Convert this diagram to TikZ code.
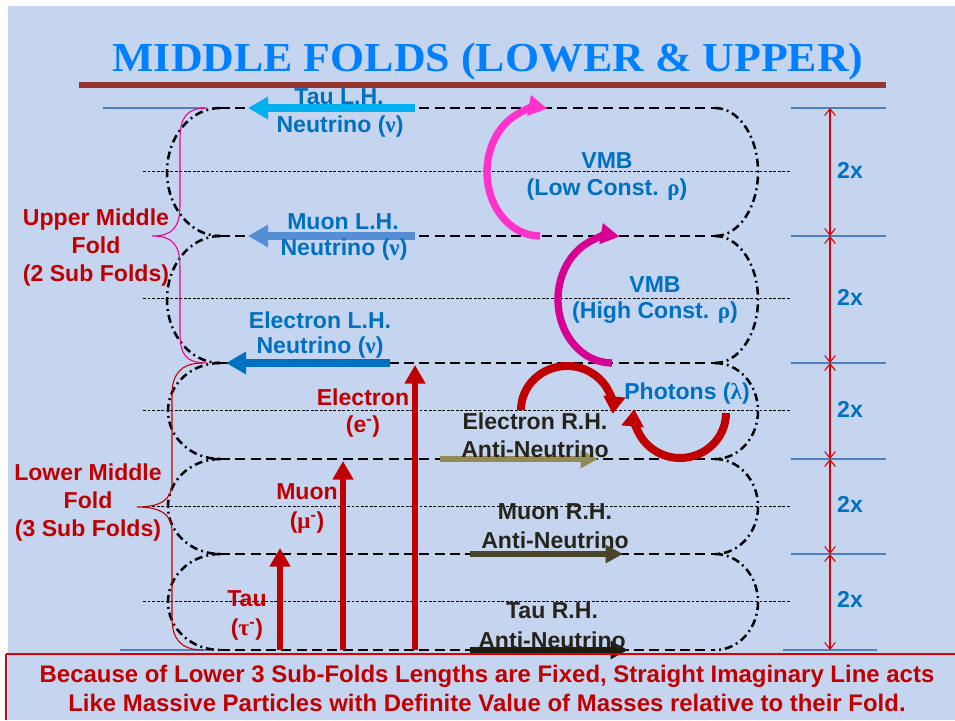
\documentclass[tikz,border=0pt]{standalone}
\usepackage{fontspec}
\usepackage{graphicx}
\setmainfont{Liberation Sans}
\newfontfamily\titlefont{Liberation Serif}
\newfontfamily\grk{Liberation Serif}
\usetikzlibrary{arrows.meta}
\definecolor{bgc}{RGB}{197,213,240}
\definecolor{titleblue}{RGB}{0,128,255}
\definecolor{barbrown}{RGB}{150,52,48}
\definecolor{lblue}{RGB}{0,112,192}
\definecolor{dred}{RGB}{192,0,0}
\definecolor{tauarr}{RGB}{0,176,240}
\definecolor{muarr}{RGB}{85,142,213}
\definecolor{elarr}{RGB}{0,112,192}
\definecolor{pinkA}{RGB}{255,51,204}
\definecolor{pinkB}{RGB}{214,0,147}
\definecolor{oliveA}{RGB}{148,138,84}
\definecolor{oliveB}{RGB}{74,69,42}
\definecolor{oliveC}{RGB}{30,28,16}
\definecolor{tickblue}{RGB}{79,129,189}
\definecolor{dimred}{RGB}{220,0,0}
\definecolor{darktxt}{RGB}{38,36,26}
\begin{document}
\begin{tikzpicture}[x=0.75pt,y=-0.75pt,
  lbl/.style={font=\bfseries\fontsize{17.3}{21}\selectfont, align=center, inner sep=0pt},
  foldline/.style={line width=1.9pt, dash pattern=on 7.5pt off 4pt},
  foldcurve/.style={line width=1.9pt, dash pattern=on 6pt off 3pt on 1.4pt off 3pt},
  midline/.style={line width=0.6pt, dash pattern=on 2.2pt off 1.2pt},
  tickline/.style={tickblue, line width=0.9pt},
  dimarrow/.style={dimred, line width=0.8pt, {Straight Barb[length=5pt,width=8pt]}-{Straight Barb[length=5pt,width=8pt]}},
  lharrow/.style={line width=5.5pt, -{Triangle[length=15pt,width=16pt]}},
  rharrow/.style={line width=4.5pt, -{Triangle[length=13pt,width=13pt]}},
  uparrow/.style={dred, line width=4.5pt, -{Triangle[length=14pt,width=15pt]}},
  vmbarc/.style={line width=5.5pt, -{Triangle[length=14pt,width=15pt]}},
  phoarc/.style={dred, line width=6pt, -{Triangle[length=13pt,width=16pt]}},
  bracemag/.style={magenta, line width=0.8pt},
  bracered/.style={dred, line width=0.8pt}
]
\path[use as bounding box] (0,0) rectangle (955,720);
\fill[white] (0,0) rectangle (955,720);
\fill[bgc] (8,6) rectangle (955,720);

% title
\node[titleblue, inner sep=0pt] (title) at (488,61.5) {\resizebox*{563pt}{28pt}{\titlefont\bfseries MIDDLE FOLDS (LOWER \& UPPER)}};
\fill[barbrown] (79,82) rectangle (886,88);

% mid dotted lines
\foreach \yy in {171,298,410,506,601} \draw[midline] (143,\yy) -- (790,\yy);

% right ticks
\foreach \yy in {108,236,363,459,554} \draw[tickline] (791,\yy) -- (886,\yy);
\draw[tickline] (783,650) -- (877,650);
\draw[tickline] (103,108) -- (205,108);
\draw[tickline] (120,650) -- (210,650);

% fold straight lines
\foreach \yy in {108,236,363,459,554,650} \draw[foldline] (220,\yy) -- (715,\yy);
% left curves
\draw[foldcurve] (220,108) arc[start angle=270,end angle=90,x radius=53,y radius=64];
\draw[foldcurve] (220,236) arc[start angle=270,end angle=90,x radius=53,y radius=63.5];
\draw[foldcurve] (220,363) arc[start angle=270,end angle=90,x radius=52,y radius=48];
\draw[foldcurve] (220,459) arc[start angle=270,end angle=90,x radius=52,y radius=47.5];
\draw[foldcurve] (220,554) arc[start angle=270,end angle=90,x radius=52,y radius=48];
% right curves
\draw[foldcurve] (715,108) arc[start angle=-90,end angle=90,x radius=43,y radius=64];
\draw[foldcurve] (715,236) arc[start angle=-90,end angle=90,x radius=43,y radius=63.5];
\draw[foldcurve] (715,363) arc[start angle=-90,end angle=90,x radius=43,y radius=48];
\draw[foldcurve] (715,459) arc[start angle=-90,end angle=90,x radius=43,y radius=47.5];
\draw[foldcurve] (715,554) arc[start angle=-90,end angle=90,x radius=43,y radius=48];

% braces
\draw[bracemag] (207,108) .. controls (186,108) and (180,118) .. (180,140) -- (180,205)
  .. controls (180,228) and (172,236) .. (152,236)
  .. controls (172,236) and (180,244) .. (180,267) -- (180,332)
  .. controls (180,355) and (186,363) .. (207,363);
\draw[bracered] (203,363) .. controls (180,363) and (172,375) .. (172,395) -- (172,483)
  .. controls (172,500) and (160,507) .. (137,507)
  .. controls (160,507) and (172,514) .. (172,531) -- (172,618)
  .. controls (172,638) and (180,650) .. (203,650);

% left-hand neutrino arrows
\coordinate (tauS) at (415,108); \coordinate (tauE) at (248,108);
\coordinate (muS) at (415,236); \coordinate (muE) at (248,236);
\coordinate (elS) at (390,363); \coordinate (elE) at (226,363);
\draw[lharrow, tauarr] (tauS) -- (tauE);
\draw[lharrow, muarr] (muS) -- (muE);
\draw[lharrow, elarr] (elS) -- (elE);

% right-hand anti-neutrino arrows
\coordinate (erS) at (440,459); \coordinate (erE) at (598,459);
\coordinate (mrS) at (470,554); \coordinate (mrE) at (623,554);
\coordinate (trS) at (470,650); \coordinate (trE) at (628,650);
\draw[rharrow, oliveA] (erS) -- (erE);
\draw[rharrow, oliveB] (mrS) -- (mrE);
\draw[rharrow, oliveC] (trS) -- (trE);

% vertical particle arrows
\coordinate (tauB) at (280,650); \coordinate (tauT) at (280,548);
\coordinate (muB) at (343,650); \coordinate (muT) at (343,461);
\coordinate (eB) at (415,650); \coordinate (eT) at (415,365);
\draw[uparrow] (tauB) -- (tauT);
\draw[uparrow] (muB) -- (muT);
\draw[uparrow] (eB) -- (eT);

% VMB arcs
\coordinate (vlS) at (540,236);
\coordinate (vhS) at (612,363);
\draw[vmbarc, pinkA] (vlS) arc[start angle=90,end angle=278,x radius=53,y radius=64];
\draw[vmbarc, pinkB] (vhS) arc[start angle=90,end angle=278,x radius=54,y radius=63.5];

% photon arcs
\coordinate (p1S) at (521,410);
\coordinate (p2S) at (726,413);
\draw[phoarc] (p1S) arc[start angle=180,end angle=365,x radius=46,y radius=44];
\draw[phoarc] (p2S) arc[start angle=0,end angle=185,x radius=46,y radius=45];

% dimension arrows
\draw[dimarrow] (830,108) -- (830,236);
\draw[dimarrow] (830,236) -- (830,363);
\draw[dimarrow] (830,363) -- (830,459);
\draw[dimarrow] (830,459) -- (830,554);
\draw[dimarrow] (830,554) -- (830,650);
\foreach \yy/\nm in {170/d1,297/d2,409/d3,504/d4,599/d5}
  \node[lbl, lblue] (\nm) at (850,\yy) {2x};

% labels
\node[lbl, lblue] (tauL1) at (339,97) {Tau L.H.};
\node[lbl, lblue] (tauL2) at (340,127) {Neutrino ({\grk ν})};
\node[lbl, lblue] (muL1) at (343,222) {Muon L.H.};
\node[lbl, lblue] (muL2) at (344,250) {Neutrino ({\grk ν})};
\node[lbl, lblue] (elL1) at (320,320) {Electron L.H.};
\node[lbl, lblue] (elL2) at (320,348) {Neutrino ({\grk ν})};

\node[lbl, lblue] (vmbL1) at (607,161) {VMB};
\node[lbl, lblue] (vmbL2) at (607,190) {(Low Const. {\grk ρ})};
\node[lbl, lblue] (vmbH1) at (655,285) {VMB};
\node[lbl, lblue] (vmbH2) at (655,313) {(High Const. {\grk ρ})};
\node[lbl, lblue] (phot) at (687,394) {Photons ({\grk λ})};

\node[lbl, darktxt] (er1) at (535,421) {Electron R.H.};
\node[lbl, darktxt] (er2) at (535,449) {Anti-Neutrino};
\node[lbl, darktxt] (mr1) at (555,512) {Muon R.H.};
\node[lbl, darktxt] (mr2) at (555,540) {Anti-Neutrino};
\node[lbl, darktxt] (tr1) at (552,611) {Tau R.H.};
\node[lbl, darktxt] (tr2) at (552,640) {Anti-Neutrino};

\node[lbl, dred] (ep1) at (363,397) {Electron};
\node[lbl, dred] (ep2) at (363,427) {(e\textsuperscript{-})};
\node[lbl, dred] (mp1) at (307,492) {Muon};
\node[lbl, dred] (mp2) at (307,523) {({\grk μ}\textsuperscript{-})};
\node[lbl, dred] (tp1) at (247,599) {Tau};
\node[lbl, dred] (tp2) at (247,630) {({\grk τ}\textsuperscript{-})};

\node[lbl, dred] (umf) at (96,248) {Upper Middle\\Fold\\(2 Sub Folds)};
\node[lbl, dred] (lmf) at (88,503) {Lower Middle\\Fold\\(3 Sub Folds)};

% bottom note
\draw[red!85!black, line width=1pt] (6,654) -- (955,654);
\draw[red!85!black, line width=1pt] (6,654) -- (6,720);
\node[dred, inner sep=0pt] (note1) at (487,676) {\resizebox{671pt}{!}{\bfseries\fontsize{15}{18}\selectfont Because of Lower 3 Sub-Folds Lengths are Fixed, Straight Imaginary Line acts}};
\node[dred, inner sep=0pt] (note2) at (487,703) {\resizebox{628pt}{!}{\bfseries\fontsize{15}{18}\selectfont Like Massive Particles with Definite Value of Masses relative to their Fold.}};
\end{tikzpicture}
\end{document}
